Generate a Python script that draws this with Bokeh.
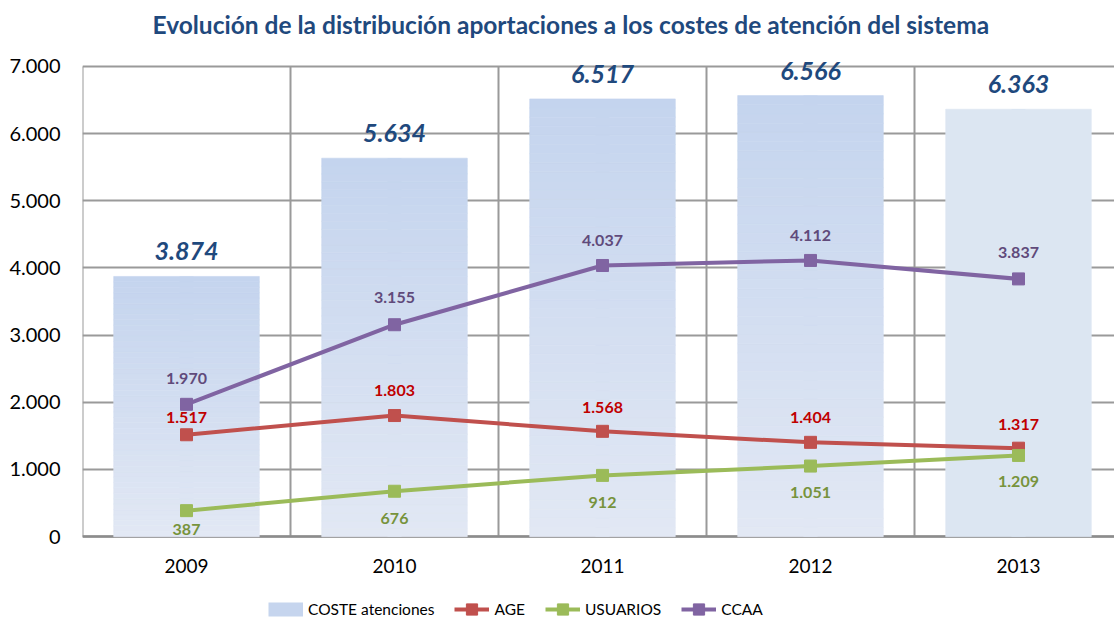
from bokeh.plotting import figure
from bokeh.models import (ColumnDataSource, FixedTicker, Range1d, Legend,
                          LegendItem)
from bokeh.core.properties import value
from bokeh.embed import file_html
from bokeh.resources import INLINE

# ---- data ----
years = ["2009", "2010", "2011", "2012", "2013"]
coste = [3874, 5634, 6517, 6566, 6363]
age = [1517, 1803, 1568, 1404, 1317]
usuarios = [387, 676, 912, 1051, 1209]
ccaa = [1970, 3155, 4037, 4112, 3837]
y_ticks = [0, 1000, 2000, 3000, 4000, 5000, 6000, 7000]

title_text = "Evolución de la distribución aportaciones a los costes de atención del sistema"


def fmt(v):
    return f"{v:,}".replace(",", ".")


FONT = "Lato"
xs = list(range(len(years)))
Y_MAX = 7000
PLOT_PX = 471      # pixel height of the 0..7000 value area
BELOW_PX = 84      # room under the value area for x labels and legend
ABOVE_PX = 20      # room above 7000 for the bar labels

p = figure(width=1114, height=620,
           x_range=Range1d(-0.5, -0.5 + 1032 / 208.0),
           y_range=Range1d(-Y_MAX * BELOW_PX / PLOT_PX,
                           Y_MAX + Y_MAX * ABOVE_PX / PLOT_PX),
           output_backend="svg", toolbar_location=None,
           min_border_left=82, min_border_right=0,
           min_border_top=45, min_border_bottom=0,
           outline_line_color=None, background_fill_color="white",
           border_fill_color="white")

# title
p.title.text = title_text
p.title.align = "left"
p.title.text_font = FONT
p.title.text_font_size = "24.5px"
p.title.text_font_style = "bold"
p.title.text_color = "#1f497d"
p.title.standoff = 15
p.title.offset = 70

# grids
GRID_COL = "#9a9a9a"
p.xgrid.visible = False
p.ygrid.ticker = FixedTicker(ticks=y_ticks)
p.ygrid.grid_line_color = GRID_COL
p.ygrid.grid_line_width = 2
bounds = [i - 0.5 for i in range(len(years) + 1)]
p.segment(x0=bounds, x1=bounds, y0=[0] * len(bounds),
          y1=[Y_MAX] * len(bounds), line_color=GRID_COL, line_width=2)

# x axis drawn inside the frame (labels are real text)
p.xaxis.visible = False
p.hspan(y=[0], line_color="#8c8c8c", line_width=2.5)
p.text(x=xs, y=[0] * len(xs), text=years, text_align="center",
       text_baseline="middle", y_offset=29, text_font=value(FONT),
       text_font_size="19px", text_color="black")

p.yaxis.ticker = FixedTicker(ticks=y_ticks)
p.yaxis.major_label_overrides = {t: fmt(t) for t in y_ticks}
p.yaxis.axis_line_color = None
p.yaxis.major_tick_line_color = None
p.yaxis.minor_tick_line_color = None
p.yaxis.major_label_standoff = 16
p.yaxis.major_label_text_font = FONT
p.yaxis.major_label_text_font_size = "20px"
p.yaxis.major_label_text_color = "black"

# ---- bars (with vertical gradient like the original) ----
BAR_W = 0.7
BAR_LEGEND_COL = "#c6d5ee"
top_col = (0xc4, 0xd4, 0xee)
bot_col = (0xe2, 0xe8, 0xf4)
flat_col = "#dce6f2"
gradient = [True, True, True, True, False]

# key renderer for the legend: a 14px line up the middle of every bar,
# fully covered by the bar fills drawn on top of it
bar_key = p.multi_line(xs=[[i, i] for i in xs], ys=[[0, v] for v in coste],
                       line_color=BAR_LEGEND_COL, line_width=14,
                       line_cap="butt")

N = 48
L, R, B, T, C = [], [], [], [], []
for i, v in enumerate(coste):
    if gradient[i]:
        for k in range(N):
            f = (k + 0.5) / N
            c = tuple(round(bot_col[j] + (top_col[j] - bot_col[j]) * f) for j in range(3))
            L.append(i - BAR_W / 2)
            R.append(i + BAR_W / 2)
            B.append(v * k / N)
            T.append(v * (k + 1) / N)
            C.append("#%02x%02x%02x" % c)
    else:
        L.append(i - BAR_W / 2)
        R.append(i + BAR_W / 2)
        B.append(0)
        T.append(v)
        C.append(flat_col)
p.quad(left=L, right=R, bottom=B, top=T, fill_color=C, line_color=C,
       line_width=0.6)

# bar labels
p.text(x=xs, y=coste, text=[fmt(v) for v in coste], text_align="center",
       text_baseline="middle", y_offset=-25, text_font=value(FONT),
       text_font_size="25px", text_font_style="bold italic",
       text_color="#1f497d")

# ---- lines ----
series = [
    ("AGE", age, "#c0504d", "#c00000", [-17, -25, -24, -25, -24]),
    ("USUARIOS", usuarios, "#9bbb59", "#77933c", [19, 27, 27, 26, 26]),
    ("CCAA", ccaa, "#8064a2", "#604a7b", [-26, -27, -25, -25, -26]),
]
legend_items = [LegendItem(label="COSTE atenciones", renderers=[bar_key])]
for name, vals, col, lab_col, offs in series:
    lr = p.line(xs, vals, line_color=col, line_width=4)
    sr = p.scatter(xs, vals, marker="square", size=12, fill_color=col,
                   line_color=col)
    src = ColumnDataSource(dict(x=xs, y=vals, t=[fmt(v) for v in vals],
                                o=offs))
    p.text(x="x", y="y", text="t", y_offset="o", source=src,
           text_align="center", text_baseline="middle",
           text_font=value(FONT), text_font_size="16px",
           text_font_style="bold", text_color=lab_col)
    legend_items.append(LegendItem(label=name, renderers=[lr, sr]))

legend = Legend(items=legend_items, orientation="horizontal",
                location=(186, -3))
legend.glyph_width = 35
legend.glyph_height = 28
legend.label_standoff = 5
legend.spacing = 20
legend.padding = 0
legend.margin = 0
legend.border_line_color = None
legend.background_fill_alpha = 0
legend.label_text_font = FONT
legend.label_text_font_size = "15.5px"
legend.label_text_color = "black"
p.add_layout(legend)

open("out.html", "w").write(file_html(p, INLINE))
